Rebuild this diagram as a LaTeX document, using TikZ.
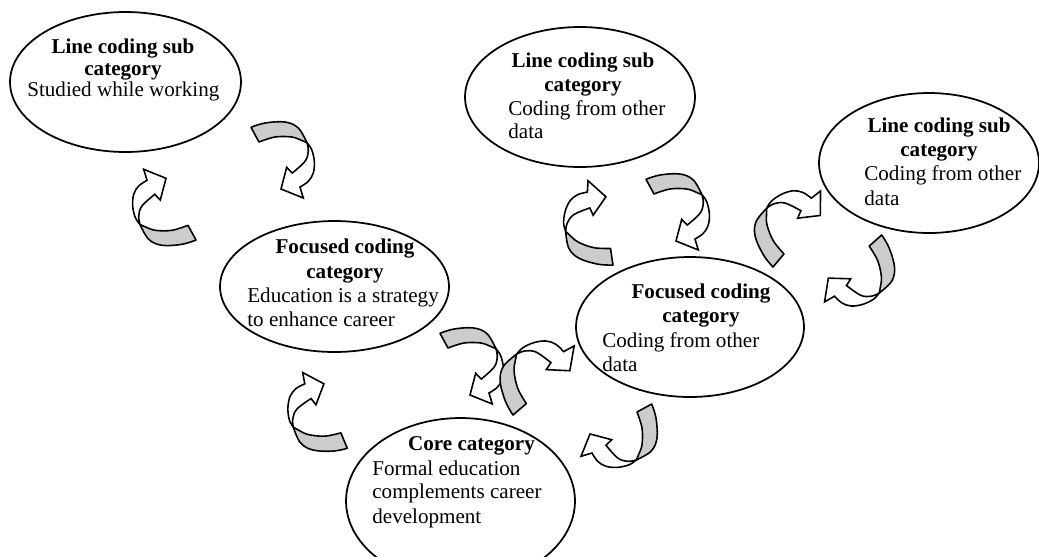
\documentclass[tikz,border=0pt]{standalone}
\usepackage{fontspec}
\setmainfont{Liberation Serif}
\usetikzlibrary{shapes.geometric}

% Twisted ribbon arrow: grey back face tapering to the twist, then the white front face with its head.
\newcommand\ribbonarrow[1]{%
  \begin{scope}[#1]
    \draw[ribbonback]
      plot[smooth, tension=0.6] coordinates {(0,0) (14,-4.3) (34,-5.3) (47.3,0.7) (56,15.5)}
      -- plot[smooth, tension=0.6] coordinates {(56,15.5) (51.3,13.4) (40.7,9.7) (24,9.7) (8,14.7)}
      -- cycle;
    \draw[ribbonfront]
      plot[smooth, tension=0.6] coordinates {(56,15.5) (60.7,22.4) (63.3,34) (62.3,45.7) (57.3,54) (49,59.7)}
      -- (52.3,70.7) -- (30,61.7) -- (35.7,40)
      -- plot[smooth, tension=0.6] coordinates {(41.3,45.7) (54,34) (57.3,24) (56,15.5)}
      -- cycle;
  \end{scope}}

\begin{document}
\begin{tikzpicture}[x=0.02cm, y=-0.02cm,
  bubble/.style 2 args={ellipse, draw, line width=1pt, inner sep=0pt,
    minimum width=#1, minimum height=#2},
  head/.style={anchor=base, inner sep=0pt, font=\fontsize{12}{13.8}\selectfont\bfseries},
  body/.style={anchor=base west, inner sep=0pt, font=\fontsize{12}{13.8}\selectfont},
  ribbonback/.style={draw=black, line width=0.9pt, fill=gray!40, line join=round},
  ribbonfront/.style={draw=black, line width=0.9pt, fill=white, line join=miter}]

\useasboundingbox (0,0) rectangle (1039,556);
\begin{scope}
\clip (0,0) rectangle (1039,556);

% category ellipses
\node[bubble={4.62cm}{2.8cm}] (lc1) at (125.5,82) {};
\node[bubble={4.6cm}{2.8cm}] (lc2) at (580,97) {};
\node[bubble={4.4cm}{2.8cm}] (lc3) at (929,163) {};
\node[bubble={4.58cm}{2.62cm}] (fc1) at (334.5,286.5) {};
\node[bubble={4.56cm}{2.8cm}] (fc2) at (690,327) {};
\node[bubble={4.58cm}{3.32cm}] (core) at (460.5,501) {};

% texts
\node[head] (lc1a) at (123,53.3) {Line coding sub};
\node[head] (lc1b) at (123,75) {category};
\node[body] (lc1c) at (27,96.7) {Studied while working};

\node[head] (lc2a) at (583,67) {Line coding sub};
\node[head] (lc2b) at (583,91) {category};
\node[body] (lc2c) at (508,115) {Coding from other};
\node[body] (lc2d) at (508,138) {data};

\node[head] (lc3a) at (939,132) {Line coding sub};
\node[head] (lc3b) at (939,156) {category};
\node[body] (lc3c) at (864,180) {Coding from other};
\node[body] (lc3d) at (864,205) {data};

\node[head] (fc1a) at (345,253) {Focused coding};
\node[head] (fc1b) at (345,278) {category};
\node[body] (fc1c) at (247,302) {Education is a strategy};
\node[body] (fc1d) at (247,326) {to enhance career};

\node[head] (fc2a) at (701,298) {Focused coding};
\node[head] (fc2b) at (701,322) {category};
\node[body] (fc2c) at (602,347) {Coding from other};
\node[body] (fc2d) at (602,371) {data};

\node[head] (corea) at (471.5,450) {Core category};
\node[body] (coreb) at (372,475) {Formal education};
\node[body] (corec) at (372,498) {complements career};
\node[body] (cored) at (372,523) {development};

% curved arrows between the categories
\ribbonarrow{shift={(251,127.3)}}
\ribbonarrow{shift={(196,240)}, rotate=180}
\ribbonarrow{shift={(347.3,448.3)}, rotate=174}
\ribbonarrow{shift={(440,333.3)}}
\ribbonarrow{shift={(513,415)}, rotate=102, scale=1.05}
\ribbonarrow{shift={(651.7,404)}, rotate=-90}
\ribbonarrow{shift={(613,265)}, rotate=160}
\ribbonarrow{shift={(646,179.3)}}
\ribbonarrow{shift={(773,267)}, rotate=111.5, scale=1.02}
\ribbonarrow{shift={(881.7,235)}, rotate=-77}
\end{scope}

\end{tikzpicture}
\end{document}
